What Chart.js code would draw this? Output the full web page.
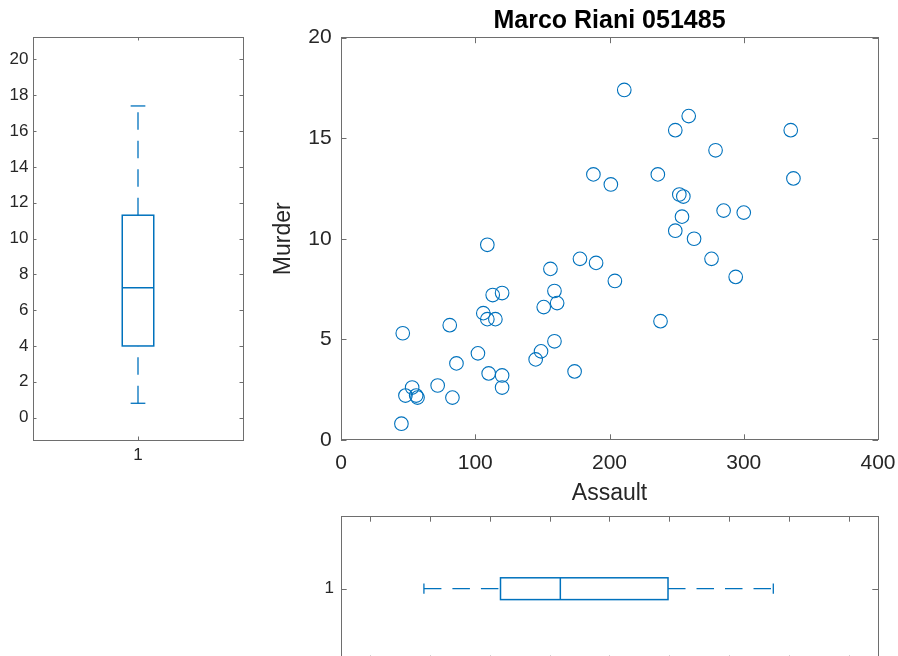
<!DOCTYPE html>
<html lang="en">
<head>
<meta charset="UTF-8">
<title>Marco Riani 051485</title>
<script src="https://cdn.jsdelivr.net/npm/chart.js"></script>
<style>
  html, body { margin: 0; padding: 0; background: #fff; overflow: hidden; }
  .panel { position: absolute; left: 0; top: 0; }
</style>
</head>
<body>
<canvas id="boxMurder" class="panel" width="898" height="656"></canvas>
<canvas id="scatter" class="panel" width="898" height="656"></canvas>
<canvas id="boxAssault" class="panel" width="898" height="700"></canvas>
<script>
// one entry per state: assault rate (x) and murder rate (y)
const assault = [236, 263, 294, 190, 276, 204, 110, 238, 335, 211,
                 46, 120, 249, 113, 56, 115, 109, 249, 83, 300,
                 149, 255, 72, 259, 178, 109, 102, 252, 57, 159,
                 285, 254, 337, 45, 120, 151, 159, 106, 174, 279,
                 86, 188, 201, 120, 48, 156, 145, 81, 53, 161];
const murder = [13.2, 10.0, 8.1, 8.8, 9.0, 7.9, 3.3, 5.9, 15.4, 17.4,
                5.3, 2.6, 10.4, 7.2, 2.2, 6.0, 9.7, 15.4, 2.1, 11.3,
                4.4, 12.1, 2.7, 16.1, 9.0, 6.0, 4.3, 12.2, 2.1, 7.4,
                11.4, 11.1, 13.0, 0.8, 7.3, 6.6, 4.9, 6.3, 3.4, 14.4,
                3.8, 13.2, 12.7, 3.2, 2.2, 8.5, 4.0, 5.7, 2.6, 6.8];

// box plot summaries: [min, q1, median, q3, max]
const murderBox = [0.8, 4.0, 7.25, 11.3, 17.4];
const assaultBox = [45, 109, 159, 249, 337];
const boxGroup = [1];

// tick values
const scatterXTicks = [0, 100, 200, 300, 400];
const scatterYTicks = [0, 5, 10, 15, 20];
const murderTicks = [0, 2, 4, 6, 8, 10, 12, 14, 16, 18, 20];
const assaultTicks = [0, 50, 100, 150, 200, 250, 300, 350, 400];

const BLUE = '#0072BD';
const TXT = '#262626';
const AX = '#6e6e6e';
const FONT = "'Liberation Sans', Arial, Helvetica, sans-serif";
const BOX = 0.15;   // box thickness in group units
const CAP = 0.07;   // whisker cap length

// force a scale's size so the plot areas land where they should
function fit(w, h) {
  return s => {
    if (w !== undefined) s.width = w;
    if (h !== undefined) s.height = h;
    s.paddingLeft = s.paddingRight = s.paddingTop = s.paddingBottom = 0;
  };
}
const useTicks = arr => s => { s.ticks = arr.map(v => ({ value: v })); };

// MATLAB style ticks pointing into the box, on all four sides
const innerTicks = {
  id: 'innerTicks',
  afterDraw(chart, args, opts) {
    const { ctx, chartArea: a } = chart;
    const len = opts.len || 5;
    const sx = chart.scales.x, sy = chart.scales.y;
    ctx.save();
    ctx.strokeStyle = AX;
    ctx.lineWidth = 1;
    ctx.beginPath();
    sx.ticks.forEach(t => {
      const p = Math.round(sx.getPixelForValue(t.value)) + 0.5;
      ctx.moveTo(p, a.bottom); ctx.lineTo(p, a.bottom - len);
      ctx.moveTo(p, a.top); ctx.lineTo(p, a.top + len);
    });
    sy.ticks.forEach(t => {
      const p = Math.round(sy.getPixelForValue(t.value)) + 0.5;
      ctx.moveTo(a.left, p); ctx.lineTo(a.left + len, p);
      ctx.moveTo(a.right, p); ctx.lineTo(a.right - len, p);
    });
    ctx.stroke();
    ctx.restore();
  }
};

function boxPlot(stats, vertical) {
  return {
    id: 'boxPlot',
    afterDatasetsDraw(chart) {
      const val = vertical ? chart.scales.y : chart.scales.x;
      const grp = vertical ? chart.scales.x : chart.scales.y;
      const pt = (v, g) => vertical
        ? [grp.getPixelForValue(g), val.getPixelForValue(v)]
        : [val.getPixelForValue(v), grp.getPixelForValue(g)];
      const [lo, q1, med, q3, hi] = stats;
      const g = boxGroup[0];
      const ctx = chart.ctx;
      const seg = (p, q) => { ctx.beginPath(); ctx.moveTo(p[0], p[1]); ctx.lineTo(q[0], q[1]); ctx.stroke(); };
      ctx.save();
      ctx.strokeStyle = BLUE;
      // whiskers, dashed, each from the lower value up
      ctx.lineWidth = 1.3;
      ctx.setLineDash([17.5, 11]);
      seg(pt(lo, g), pt(q1, g));
      seg(pt(q3, g), pt(hi, g));
      ctx.setLineDash([]);
      seg(pt(lo, g - CAP / 2), pt(lo, g + CAP / 2));
      seg(pt(hi, g - CAP / 2), pt(hi, g + CAP / 2));
      // box and median
      ctx.lineWidth = 1.5;
      const a = pt(q1, g - BOX / 2), b = pt(q3, g + BOX / 2);
      ctx.strokeRect(Math.min(a[0], b[0]), Math.min(a[1], b[1]), Math.abs(b[0] - a[0]), Math.abs(b[1] - a[1]));
      seg(pt(med, g - BOX / 2), pt(med, g + BOX / 2));
      ctx.restore();
    }
  };
}

const hidden = { drawOnChartArea: false, drawTicks: false };
const noPlugins = { legend: { display: false }, tooltip: { enabled: false } };

function mirror(axis, pos, min, max) {
  return {
    type: 'linear', axis: axis, position: pos, min: min, max: max,
    ticks: { display: false }, grid: hidden, border: { color: AX },
    afterFit: axis === 'x' ? fit(undefined, 0) : fit(0, undefined)
  };
}

// left: vertical box plot of Murder
new Chart(document.getElementById('boxMurder'), {
  type: 'scatter',
  data: { datasets: [] },
  plugins: [innerTicks, boxPlot(murderBox, true)],
  options: {
    responsive: false, animation: false, events: [],
    layout: { padding: { left: 0, right: 655, top: 37, bottom: 186 } },
    plugins: Object.assign({ innerTicks: { len: 3.5 } }, noPlugins),
    scales: {
      x: {
        type: 'linear', min: 0.5, max: 1.5, afterBuildTicks: useTicks(boxGroup),
        afterFit: fit(undefined, 30), grid: hidden, border: { color: AX },
        ticks: { color: TXT, font: { family: FONT, size: 17 }, padding: 5 }
      },
      y: {
        type: 'linear', min: -1.25, max: 21.25, afterBuildTicks: useTicks(murderTicks),
        afterFit: fit(33, undefined), grid: hidden, border: { color: AX },
        ticks: { color: TXT, font: { family: FONT, size: 17 }, padding: 4.5 }
      },
      x2: mirror('x', 'top', 0.5, 1.5),
      y2: mirror('y', 'right', -1.25, 21.25)
    }
  }
});

// main scatter: Murder against Assault
new Chart(document.getElementById('scatter'), {
  type: 'scatter',
  data: {
    datasets: [{
      data: assault.map((a, i) => ({ x: a, y: murder[i] })),
      borderColor: BLUE, backgroundColor: 'rgba(0,0,0,0)', borderWidth: 1.1,
      pointRadius: 6.8, pointHoverRadius: 6.8
    }]
  },
  plugins: [innerTicks],
  options: {
    responsive: false, animation: false, events: [],
    layout: { padding: { left: 270, right: 20, top: 0, bottom: 149 } },
    plugins: Object.assign({
      innerTicks: { len: 5.5 },
      title: {
        display: true, text: 'Marco Riani 051485', fullSize: false, color: '#000',
        font: { family: FONT, size: 25, weight: 'bold' }, padding: { top: 6, bottom: 1.7 }
      }
    }, noPlugins),
    scales: {
      x: {
        type: 'linear', min: 0, max: 400, afterBuildTicks: useTicks(scatterXTicks),
        afterFit: fit(undefined, 67.2), grid: hidden, border: { color: AX },
        ticks: { color: TXT, font: { family: FONT, size: 21 }, padding: 11 },
        title: { display: true, text: 'Assault', color: TXT, font: { family: FONT, size: 23 }, padding: 0 }
      },
      y: {
        type: 'linear', min: 0, max: 20, afterBuildTicks: useTicks(scatterYTicks),
        afterFit: fit(71, undefined), grid: hidden, border: { color: AX },
        ticks: { color: TXT, font: { family: FONT, size: 21 }, padding: 9.3 },
        title: { display: true, text: 'Murder', color: TXT, font: { family: FONT, size: 23 }, padding: 0 }
      },
      x2: mirror('x', 'top', 0, 400),
      y2: mirror('y', 'right', 0, 20)
    }
  }
});

// bottom: horizontal box plot of Assault
new Chart(document.getElementById('boxAssault'), {
  type: 'scatter',
  data: { datasets: [] },
  plugins: [innerTicks, boxPlot(assaultBox, false)],
  options: {
    responsive: false, animation: false, events: [],
    layout: { padding: { left: 300, right: 20, top: 516, bottom: 8.6 } },
    plugins: Object.assign({ innerTicks: { len: 5.7 } }, noPlugins),
    scales: {
      x: {
        type: 'linear', min: -24.3, max: 424.5, afterBuildTicks: useTicks(assaultTicks),
        afterFit: fit(undefined, 30), grid: hidden, border: { color: AX },
        ticks: { color: TXT, font: { family: FONT, size: 17 }, padding: 5 }
      },
      y: {
        type: 'linear', min: 0.5, max: 1.5, afterBuildTicks: useTicks(boxGroup),
        afterFit: fit(41, undefined), grid: hidden, border: { color: AX },
        ticks: { color: TXT, font: { family: FONT, size: 17 }, padding: 7 }
      },
      x2: mirror('x', 'top', -24.3, 424.5),
      y2: mirror('y', 'right', 0.5, 1.5)
    }
  }
});
</script>
</body>
</html>
